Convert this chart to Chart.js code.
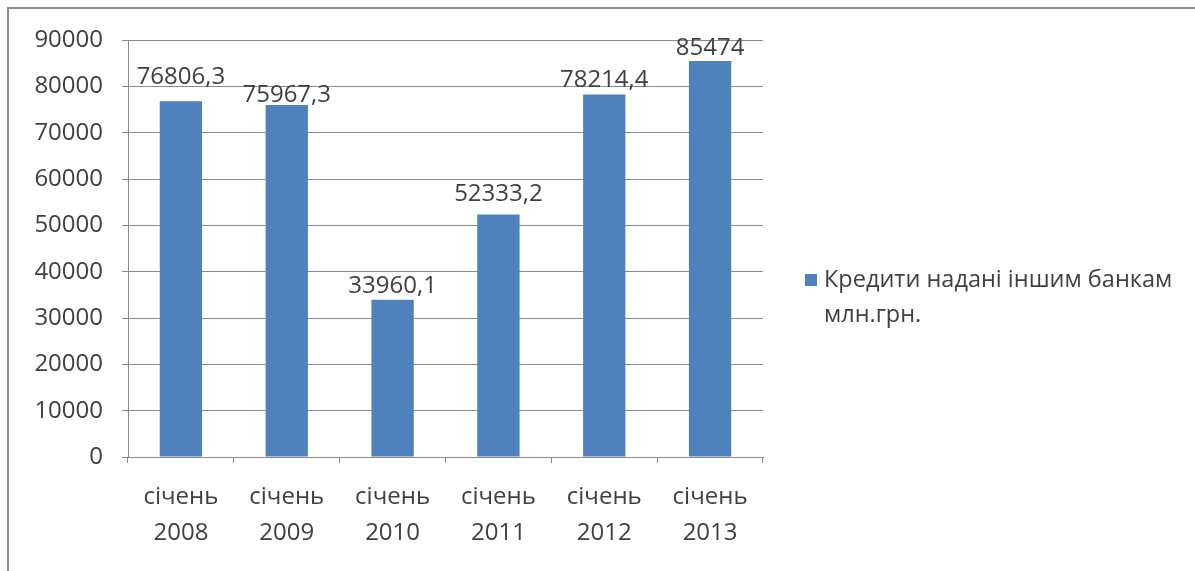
<!DOCTYPE html>
<html>
<head>
<meta charset="utf-8">
<script src="https://cdn.jsdelivr.net/npm/chart.js@4/dist/chart.umd.min.js"></script>
<style>
  html, body { margin: 0; padding: 0; background: #fff; overflow: hidden; }
  #wrap { position: relative; width: 1195px; height: 571px; }
  #frame {
    position: absolute; left: 7px; top: 7px; width: 1300px; height: 700px;
    border-left: 2px solid #8c8c8c; border-top: 2px solid #8c8c8c;
  }
  #chart { position: absolute; left: 0; top: 0; }
  #legend {
    position: absolute; left: 805px; top: 261px;
    font: 23.5px "Open Sans", sans-serif; color: #404040; line-height: 35px;
  }
  #legend .box {
    display: inline-block; width: 12px; height: 12px; background: #4F81BD;
    margin-right: 7px; vertical-align: 1px;
  }
  #legend .line2 { padding-left: 19px; }
</style>
</head>
<body>
<div id="wrap">
  <div id="frame"></div>
  <canvas id="chart" width="1195" height="571"></canvas>
  <div id="legend">
    <div><span class="box"></span>Кредити надані іншим банкам</div>
    <div class="line2">млн.грн.</div>
  </div>
</div>
<script>
'use strict';

const months = ['січень', 'січень', 'січень', 'січень', 'січень', 'січень'];
const years = ['2008', '2009', '2010', '2011', '2012', '2013'];
const loans = [76806.3, 75967.3, 33960.1, 52333.2, 78214.4, 85474];
const seriesName = 'Кредити надані іншим банкам млн.грн.';

// gap between each value label and the top of its bar
const labelGaps = [17, 3, 7, 14, 8, 6];

const labels = months.map((m, i) => [m, years[i]]);
const textColor = '#404040';
const gridColor = '#8a8a8a';
const fontFamily = '"Open Sans", sans-serif';

const valueLabels = {
  id: 'valueLabels',
  afterDatasetsDraw(chart) {
    const ctx = chart.ctx;
    const meta = chart.getDatasetMeta(0);
    ctx.save();
    ctx.font = '24px ' + fontFamily;
    ctx.fillStyle = textColor;
    ctx.textAlign = 'center';
    ctx.textBaseline = 'alphabetic';
    meta.data.forEach((bar, i) => {
      const text = String(loans[i]).replace('.', ',');
      ctx.fillText(text, bar.x, bar.y - labelGaps[i]);
    });
    ctx.restore();
  }
};

function renderChart() {
  const chartData = {
    labels: labels,
    datasets: [{
      label: seriesName,
      data: loans,
      backgroundColor: '#4F81BD',
      borderWidth: 0,
      barPercentage: 0.4,
      categoryPercentage: 1
    }]
  };

  const config = {
    type: 'bar',
    data: chartData,
    options: {
      responsive: false,
      animation: false,
      layout: { padding: { left: 0, top: 40, right: 432, bottom: 0 } },
      plugins: {
        legend: { display: false },
        tooltip: { enabled: false }
      },
      scales: {
        x: {
          grid: {
            offset: true,
            drawOnChartArea: false,
            drawTicks: true,
            tickLength: 6,
            color: gridColor
          },
          border: { color: gridColor, width: 1 },
          ticks: {
            color: textColor,
            padding: 16,
            font: { family: fontFamily, size: 24, lineHeight: 1.5 }
          },
          afterFit(scale) { scale.height = 114; }
        },
        y: {
          min: 0,
          max: 90000,
          ticks: {
            stepSize: 10000,
            color: textColor,
            padding: 19,
            font: { family: fontFamily, size: 24 },
            callback: value => String(value)
          },
          grid: { color: gridColor, tickLength: 6 },
          border: { color: gridColor, width: 1 },
          afterFit(scale) { scale.width = 128; }
        }
      }
    },
    plugins: [valueLabels]
  };

  new Chart(document.getElementById('chart'), config);
}

renderChart();
</script>
</body>
</html>
